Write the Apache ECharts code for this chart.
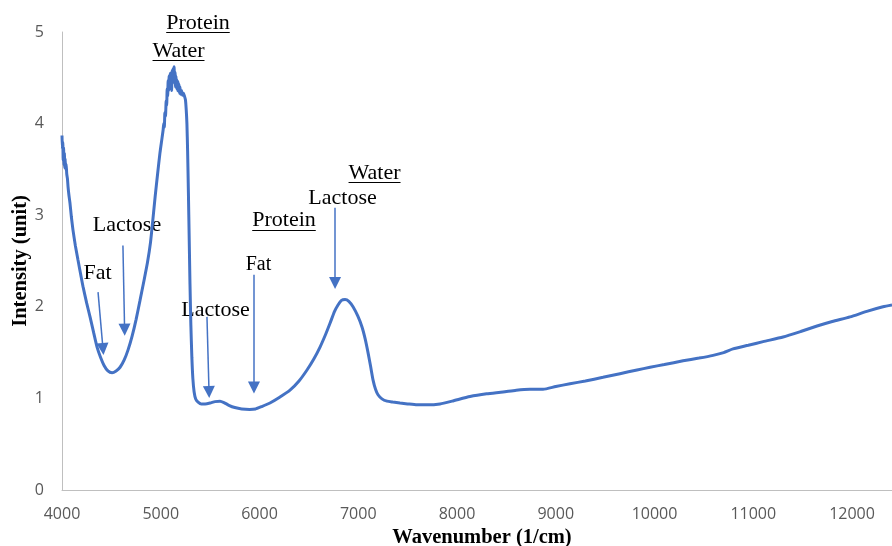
<!DOCTYPE html>
<html>
<head>
<meta charset="utf-8">
<title>NIR spectrum of milk</title>
<script src="https://cdn.jsdelivr.net/npm/echarts@6/dist/echarts.min.js"></script>
<style>
  html, body { margin: 0; padding: 0; background: #ffffff; }
  #chart { width: 892px; height: 546px; }
</style>
</head>
<body>
<div id="chart"></div>
<script>
// Wavenumber (1/cm) of each sampled point
var wavenumbers = [
  4000, 4004, 4008, 4012, 4016, 4020, 4024, 4028, 4032, 4036, 4042, 4048, 4055, 4062, 4070, 4081,
  4095, 4111, 4135, 4162, 4190, 4213, 4250, 4284, 4320, 4355, 4390, 4426, 4465, 4507, 4548, 4588,
  4630, 4669, 4710, 4750, 4790, 4831, 4865, 4896, 4920, 4943, 4968, 4992, 5010, 5024, 5030, 5036,
  5042, 5048, 5055, 5060, 5065, 5070, 5075, 5080, 5085, 5090, 5095, 5100, 5105, 5110, 5115, 5120,
  5125, 5130, 5135, 5140, 5145, 5150, 5155, 5160, 5165, 5170, 5175, 5180, 5185, 5190, 5195, 5200,
  5210, 5220, 5230, 5240, 5250, 5258, 5265, 5272, 5280, 5288, 5296, 5305, 5315, 5325, 5338, 5355,
  5378, 5410, 5450, 5500, 5550, 5600, 5640, 5690, 5750, 5820, 5900, 5960, 6020, 6106, 6200, 6309,
  6400, 6481, 6550, 6613, 6670, 6714, 6760, 6795, 6830, 6866, 6905, 6947, 6995, 7038, 7070, 7099,
  7125, 7150, 7175, 7200, 7240, 7291, 7350, 7423, 7500, 7595, 7700, 7828, 7950, 8132, 8300, 8466,
  8600, 8739, 8871, 9000, 9144, 9300, 9478, 9650, 9823, 9955, 10100, 10289, 10450, 10593, 10700, 10795,
  10950, 11100, 11302, 11480, 11646, 11800, 11980, 12150, 12314, 12405
];

// Intensity (unit) at each wavenumber above
var intensities = [
  3.87, 3.72, 3.80, 3.60, 3.74, 3.55, 3.68, 3.52, 3.62, 3.50, 3.56, 3.45, 3.40, 3.30, 3.22, 3.13,
  2.98, 2.84, 2.67, 2.51, 2.35, 2.22, 2.04, 1.89, 1.72, 1.56, 1.45, 1.36, 1.30, 1.28, 1.30, 1.34,
  1.42, 1.53, 1.68, 1.86, 2.07, 2.29, 2.48, 2.70, 2.95, 3.20, 3.45, 3.68, 3.82, 3.93, 4.00, 3.96,
  4.12, 4.08, 4.25, 4.20, 4.38, 4.30, 4.47, 4.36, 4.52, 4.40, 4.55, 4.42, 4.50, 4.36, 4.58, 4.44,
  4.60, 4.46, 4.62, 4.45, 4.56, 4.40, 4.52, 4.38, 4.48, 4.36, 4.46, 4.35, 4.43, 4.33, 4.40, 4.32,
  4.36, 4.31, 4.33, 4.30, 4.26, 4.15, 4.00, 3.70, 3.25, 2.75, 2.25, 1.80, 1.45, 1.22, 1.07, 0.99,
  0.96, 0.94, 0.94, 0.95, 0.965, 0.97, 0.955, 0.925, 0.90, 0.885, 0.88, 0.885, 0.91, 0.95, 1.01, 1.09,
  1.19, 1.31, 1.43, 1.56, 1.70, 1.82, 1.95, 2.02, 2.07, 2.08, 2.06, 2.00, 1.90, 1.78, 1.65, 1.50,
  1.35, 1.20, 1.10, 1.04, 0.995, 0.97, 0.96, 0.95, 0.94, 0.93, 0.93, 0.94, 0.97, 1.02, 1.05, 1.07,
  1.09, 1.10, 1.10, 1.13, 1.16, 1.19, 1.23, 1.27, 1.31, 1.34, 1.37, 1.41, 1.44, 1.47, 1.50, 1.54,
  1.58, 1.62, 1.67, 1.73, 1.79, 1.84, 1.89, 1.95, 2.00, 2.02
];

// Axis tick values
var xTicks = [4000, 5000, 6000, 7000, 8000, 9000, 10000, 11000, 12000];
var yTicks = [0, 1, 2, 3, 4, 5];

// Band-assignment arrows: [from wavenumber, from intensity, to wavenumber, to intensity]
var arrowStarts = [[4365, 2.16], [4617, 2.67], [5468, 1.89], [5944, 2.35], [6765, 3.08]];
var arrowEnds   = [[4415, 1.54], [4634, 1.75], [5489, 1.07], [5944, 1.12], [6765, 2.26]];

// Band-assignment labels, anchored at their centre (wavenumber, intensity)
var labelTexts     = ['Protein', 'Water', 'Lactose', 'Fat', 'Lactose', 'Fat', 'Protein', 'Lactose', 'Water'];
var labelPositions = [[5377, 5.10], [5180, 4.79], [4658, 2.89], [4360, 2.37], [5555, 1.965],
                      [5990, 2.456], [6248, 2.94], [6841, 3.19], [7165, 3.46]];
var labelUnderlined = [true, true, false, false, false, false, true, false, true];
var labelSizes      = [22, 22, 22, 22, 22, 20, 22, 22, 22];

var points = wavenumbers.map(function (w, i) { return [w, intensities[i]]; });

var arrowData = arrowStarts.map(function (s, i) {
  return [{ coord: s, symbol: 'none' }, { coord: arrowEnds[i], symbol: 'triangle', symbolSize: 12 }];
});

var chart = echarts.init(document.getElementById('chart'), null, { renderer: 'canvas' });

var option = {
  animation: false,
  backgroundColor: '#ffffff',
  grid: { left: 62, right: 0, top: 32, bottom: 56, containLabel: false, outerBoundsMode: 'none' },
  xAxis: {
    type: 'value',
    min: xTicks[0],
    max: 12405,
    interval: 1000,
    name: 'Wavenumber (1/cm)',
    nameLocation: 'middle',
    nameGap: 37,
    nameMoveOverlap: false,
    nameTextStyle: {
      fontFamily: '"Liberation Serif", "Times New Roman", serif',
      fontWeight: 'bold', fontSize: 20.5, color: '#000000',
      padding: [0, 0, 0, 10]
    },
    axisLine: { show: true, lineStyle: { color: '#BFBFBF', width: 1 } },
    axisTick: { show: false },
    splitLine: { show: false },
    axisLabel: {
      margin: 16,
      color: '#595959',
      fontFamily: '"Open Sans", sans-serif',
      fontSize: 16,
      formatter: function (v) { return xTicks.indexOf(v) >= 0 ? String(v) : ''; }
    }
  },
  yAxis: {
    type: 'value',
    min: yTicks[0],
    max: yTicks[yTicks.length - 1],
    interval: 1,
    name: 'Intensity (unit)',
    nameLocation: 'middle',
    nameGap: 31,
    nameMoveOverlap: false,
    nameTextStyle: {
      fontFamily: '"Liberation Serif", "Times New Roman", serif',
      fontWeight: 'bold', fontSize: 20.5, color: '#000000'
    },
    axisLine: { show: true, lineStyle: { color: '#BFBFBF', width: 1 } },
    axisTick: { show: false },
    splitLine: { show: false },
    axisLabel: {
      margin: 18,
      color: '#595959',
      fontFamily: '"Open Sans", sans-serif',
      fontSize: 16
    }
  },
  series: [
    {
      type: 'line',
      data: points,
      showSymbol: false,
      smooth: 0.2,
      lineStyle: { color: '#4472C4', width: 3 },
      itemStyle: { color: '#4472C4' },
      emphasis: { disabled: true },
      silent: true,
      markLine: {
        silent: true,
        animation: false,
        symbol: ['none', 'triangle'],
        symbolSize: 12,
        label: { show: false },
        emphasis: { disabled: true },
        lineStyle: { color: '#4472C4', width: 1.5, type: 'solid' },
        itemStyle: { color: '#4472C4' },
        data: arrowData
      }
    }
  ]
};

chart.setOption(option);

// Text labels for the band assignments, placed through the axes' scales
var measureCtx = document.createElement('canvas').getContext('2d');
function textWidth(str, size) {
  measureCtx.font = size + 'px "Liberation Serif"';
  return measureCtx.measureText(str).width;
}

var graphics = [];
labelTexts.forEach(function (txt, i) {
  var p = chart.convertToPixel({ xAxisIndex: 0, yAxisIndex: 0 }, labelPositions[i]);
  var size = labelSizes[i];
  graphics.push({
    type: 'text',
    x: p[0], y: p[1],
    silent: true,
    style: {
      text: txt,
      fill: '#000000',
      font: size + 'px "Liberation Serif", "Times New Roman", serif',
      textAlign: 'center',
      textVerticalAlign: 'middle'
    }
  });
  if (labelUnderlined[i]) {
    var w = textWidth(txt, size);
    var uy = Math.round(p[1] + size * 0.42) + 0.5;
    graphics.push({
      type: 'line',
      silent: true,
      shape: { x1: p[0] - w / 2, y1: uy, x2: p[0] + w / 2, y2: uy },
      style: { stroke: '#000000', lineWidth: 1 }
    });
  }
});

chart.setOption({ graphic: graphics });
</script>
</body>
</html>
